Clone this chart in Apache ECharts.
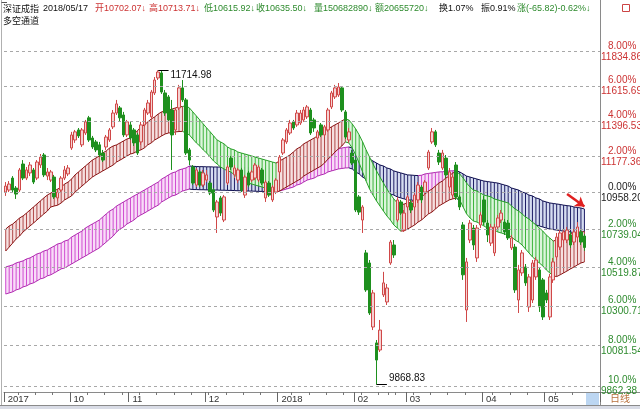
<!DOCTYPE html>
<html><head><meta charset="utf-8">
<script src="https://cdn.jsdelivr.net/npm/echarts@6.0.0/dist/echarts.min.js"></script>
<style>html,body{margin:0;padding:0;background:#fff}#c{width:640px;height:409px}</style>
</head><body><div id="c"></div><script>
// ---- trading days ----
const monthKeys = ['2017-09','2017-10','2017-11','2017-12','2018-01','2018-02','2018-03','2018-04','2018-05'];
const sep2017 = [5,6,7,8,11,12,13,14,15,18,19,20,21,22,25,26,27,28,29];
const oct2017 = [9,10,11,12,13,16,17,18,19,20,23,24,25,26,27,30,31];
const nov2017 = [1,2,3,6,7,8,9,10,13,14,15,16,17,20,21,22,23,24,27,28,29,30];
const dec2017 = [1,4,5,6,7,8,11,12,13,14,15,18,19,20,21,22,25,26,27,28,29];
const jan2018 = [2,3,4,5,8,9,10,11,12,15,16,17,18,19,22,23,24,25,26,29,30,31];
const feb2018 = [1,2,5,6,7,8,9,12,13,14,22,23,26,27,28];
const mar2018 = [1,2,5,6,7,8,9,12,13,14,15,16,19,20,21,22,23,26,27,28,29,30];
const apr2018 = [2,3,4,9,10,11,12,13,16,17,18,19,20,23,24,25,26,27];
const may2018 = [2,3,4,7,8,9,10,11,14,15,16,17];
const monthDays = [sep2017,oct2017,nov2017,dec2017,jan2018,feb2018,mar2018,apr2018,may2018];

// ---- candles ----
const opens = [10962,10974,11046,10986,10974,11131,11046,11077,11095,11046,
11125,11186,11058,11034,11052,10927,10974,11046,11071,11229,
11278,11340,11248,11321,11415,11290,11266,11248,11198,11235,
11278,11359,11445,11477,11433,11309,11371,11340,11309,11266,
11371,11445,11421,11571,11666,11698,11571,11546,11464,11340,
11477,11603,11527,11217,11113,11004,11083,11004,11034,11016,
10974,10814,10927,10796,11016,11167,11065,11034,11095,10944,
11077,11034,11046,11034,11095,10927,11016,10915,10962,11083,
11198,11266,11321,11390,11371,11383,11402,11421,11464,11402,
11290,11371,11309,11340,11483,11546,11558,11603,11452,11278,
11198,11155,10933,10796,10604,10546,10184,10096,10057,10364,
10324,10546,10650,10796,10903,10737,10873,10897,10873,10915,
10992,10962,11107,11266,11328,11198,11107,11167,10992,10944,
11125,10933,10767,10279,10679,10749,10575,10767,10915,10778,
10661,10604,10755,10796,10784,10778,10633,10638,10335,10489,
10523,10296,10335,10466,10506,10449,10375,10240,10449,10581,
10638,10679,10679,10708,10667,10696,10726,10702.07];
const closes = [10998,11010,10974,10950,11095,11046,11095,11125,11022,11143,
11173,11065,11083,11083,10933,10962,11046,11095,11107,11309,
11328,11303,11340,11390,11278,11235,11217,11186,11155,11296,
11340,11445,11502,11415,11309,11390,11290,11260,11198,11371,
11464,11508,11577,11653,11704,11577,11445,11402,11309,11464,
11603,11527,11198,11155,11016,11095,11004,11077,11065,10956,
10855,10903,10837,10933,11113,11113,11107,11095,10974,11052,
11004,11083,11125,11113,11016,11022,10944,10992,11034,11173,
11278,11340,11383,11352,11445,11445,11464,11483,11321,11352,
11328,11309,11359,11464,11571,11603,11609,11464,11296,11328,
11137,10855,10843,10873,10392,10262,10375,10002,10167,10432,
10403,10667,10592,10915,10837,10837,10933,10855,10944,11004,
10915,11022,11204,11328,11248,11143,11198,11065,11083,11052,
10933,10873,10478,10552,10778,10650,10749,10826,10784,10708,
10755,10755,10808,10837,10726,10691,10691,10392,10506,10604,
10432,10466,10546,10563,10296,10240,10335,10466,10552,10696,
10720,10726,10737,10650,10726,10755,10667,10635.50];
const lows = [10939,10962,10962,10921,10962,11034,11034,11058,11010,11034,
11107,11052,11034,11022,10921,10909,10962,11034,11058,11217,
11260,11290,11235,11309,11266,11223,11204,11173,11143,11217,
11266,11346,11433,11390,11296,11296,11278,11241,11186,11248,
11359,11433,11408,11558,11653,11565,11427,11390,11095,11309,
11464,11514,11186,11125,11004,10992,10992,10992,11022,10944,
10843,10720,10820,10784,11004,11095,11046,11016,10962,10927,
10992,11022,11034,11022,11004,10903,10933,10903,10950,11071,
11186,11254,11309,11340,11359,11371,11390,11408,11309,11328,
11278,11296,11296,11328,11470,11533,11546,11452,11284,11260,
11125,10843,10826,10720,10381,10251,10167,9868.83,10046,10352,
10307,10535,10575,10784,10826,10726,10855,10837,10855,10897,
10897,10944,11095,11254,11235,11125,11095,11046,10974,10927,
10915,10855,10449,10212,10661,10621,10552,10749,10767,10667,
10644,10586,10737,10778,10708,10679,10621,10375,10262,10472,
10415,10268,10318,10449,10268,10223,10318,10223,10432,10563,
10621,10661,10661,10633,10650,10679,10650,10615.92];
const highs = [11022,11028,11058,10998,11107,11155,11113,11143,11107,11155,
11192,11198,11107,11095,11065,10974,11058,11119,11125,11328,
11340,11352,11352,11402,11427,11303,11278,11266,11217,11309,
11352,11464,11527,11489,11452,11402,11390,11352,11321,11390,
11477,11527,11590,11672,11714.98,11711,11590,11558,11527,11477,
11622,11653,11539,11229,11125,11107,11095,11095,11095,11028,
10986,10915,10939,10944,11125,11180,11125,11107,11107,11065,
11089,11095,11137,11125,11107,11034,11028,11004,11046,11186,
11290,11352,11402,11402,11464,11464,11483,11495,11477,11415,
11340,11383,11371,11477,11584,11622,11634,11615,11464,11352,
11217,11167,10944,10884,10621,10563,10392,10112,10223,10495,
10426,10679,10679,10933,10915,10855,10944,10915,10956,11022,
11004,11034,11217,11352,11340,11217,11217,11186,11107,11065,
11143,10944,10784,10575,10796,10767,10767,10843,10939,10796,
10773,10773,10826,10855,10802,10796,10708,10656,10535,10621,
10540,10483,10563,10581,10523,10460,10392,10483,10575,10720,
10737,10743,10755,10726,10743,10784,10743,10713.71];

// ---- 多空通道 bands ----
const fastUpper = [10743,10761,10772,10790,10808,10820,10837,10855,10873,10891,
10909,10927,10944,10956,10968,10980,10992,11010,11022,11040,
11065,11083,11101,11119,11137,11155,11167,11180,11198,11211,
11229,11241,11248,11260,11272,11284,11290,11315,11334,11359,
11371,11390,11408,11421,11439,11452,11458,11464,11470,11477,
11483,11486,11490,11477,11452,11427,11402,11377,11352,11328,
11303,11278,11266,11254,11235,11223,11217,11204,11198,11192,
11186,11180,11173,11167,11161,11155,11149,11143,11137,11149,
11161,11173,11186,11204,11223,11235,11254,11266,11278,11290,
11303,11315,11334,11346,11359,11371,11383,11396,11408,11402,
11377,11346,11309,11266,11217,11173,11131,11089,11052,11016,
10980,10950,10921,10897,10884,10891,10897,10903,10915,10921,
10933,10950,10968,10980,10998,11016,11028,11046,11058,11077,
11083,11071,11046,11016,10992,10974,10968,10956,10944,10939,
10933,10921,10915,10909,10903,10897,10879,10861,10849,10832,
10814,10802,10784,10767,10749,10731,10708,10691,10673,10679,
10691,10702,10708,10714,10720,10722,10726,10728];
const fastLower = [10615,10638,10661,10685,10702,10726,10743,10761,10778,10796,
10814,10832,10849,10873,10879,10884,10897,10915,10927,10939,
10962,10980,10998,11016,11034,11052,11065,11077,11089,11101,
11113,11125,11143,11155,11167,11180,11192,11198,11211,11217,
11229,11248,11260,11278,11290,11303,11315,11321,11323,11328,
11330,11331,11321,11309,11284,11260,11241,11217,11198,11173,
11149,11131,11113,11101,11089,11083,11065,11046,11034,11028,
11016,11010,11004,10998,10992,10986,10980,10968,10962,10968,
10980,10992,11004,11016,11028,11040,11058,11071,11083,11095,
11107,11119,11137,11161,11180,11204,11223,11241,11266,11260,
11229,11186,11137,11083,11028,10980,10944,10909,10879,10849,
10820,10796,10767,10749,10731,10733,10743,10755,10767,10784,
10796,10814,10832,10843,10861,10879,10891,10903,10915,10921,
10927,10915,10873,10832,10808,10790,10784,10773,10761,10749,
10743,10737,10726,10720,10714,10708,10696,10679,10667,10650,
10627,10604,10581,10563,10546,10529,10506,10489,10472,10468,
10478,10489,10500,10512,10523,10535,10546,10552];
const slowUpper = [10523,10529,10535,10546,10552,10558,10569,10575,10586,10598,
10604,10615,10621,10633,10644,10656,10661,10673,10679,10696,
10708,10720,10731,10749,10761,10773,10784,10796,10814,10832,
10849,10861,10879,10891,10903,10915,10927,10939,10950,10962,
10974,10986,10998,11010,11022,11040,11052,11065,11077,11083,
11095,11101,11107,11119,11117,11116,11115,11115,11114,11114,
11113,11113,11112,11112,11111,11111,11110,11110,11109,11109,
11108,11108,11107,11107,11106,11106,11105,11105,11104,11113,
11119,11125,11131,11137,11143,11149,11155,11167,11173,11180,
11186,11187,11192,11198,11211,11217,11223,11229,11232,11235,
11229,11217,11204,11186,11173,11161,11149,11137,11125,11119,
11107,11101,11089,11083,11077,11071,11065,11064,11062,11061,
11063,11071,11074,11077,11080,11083,11084,11086,11089,11090,
11091,11083,11071,11058,11052,11046,11040,11034,11028,11025,
11022,11019,11016,11010,11004,10998,10986,10980,10974,10962,
10956,10944,10939,10927,10921,10909,10903,10897,10894,10891,
10888,10884,10881,10879,10873,10870,10867,10861];
const slowLower = [10369,10375,10381,10392,10398,10409,10415,10426,10432,10443,
10455,10460,10472,10478,10489,10500,10512,10517,10529,10540,
10552,10563,10575,10586,10598,10610,10621,10633,10650,10667,
10685,10702,10726,10743,10755,10773,10784,10796,10814,10826,
10837,10849,10861,10873,10884,10903,10915,10927,10939,10944,
10956,10968,10974,10980,10977,10977,10976,10976,10975,10975,
10974,10974,10973,10973,10972,10972,10971,10970,10970,10969,
10968,10968,10967,10966,10966,10965,10964,10963,10962,10968,
10974,10980,10986,10992,11004,11010,11022,11034,11040,11046,
11058,11065,11071,11083,11089,11095,11101,11104,11107,11108,
11101,11083,11071,11052,11040,11022,11010,10992,10980,10968,
10962,10950,10944,10933,10927,10921,10915,10914,10912,10911,
10913,10915,10918,10919,10921,10922,10923,10924,10925,10926,
10927,10909,10903,10897,10891,10888,10884,10881,10879,10873,
10867,10861,10858,10855,10849,10843,10832,10826,10814,10808,
10796,10784,10778,10767,10761,10755,10749,10743,10740,10737,
10734,10731,10728,10726,10720,10714,10711,10708];

// ---- right axis ticks ----
const levelPrices = [11834.86,11615.69,11396.53,11177.36,10958.20,10739.04,10519.87,10300.71,10081.54,9862.38];
const levelPercents = ['8.00%','6.00%','4.00%','2.00%','0.00%','2.00%','4.00%','6.00%','8.00%','10.0%'];
const lastClose = 10635.50;
const highMark = {index: 44, value: 11714.98};
const lowMark = {index: 107, value: 9868.83};
const padSlots = 4;

// ---- build ----
const dates = [];
monthKeys.forEach((k, m) => monthDays[m].forEach(d => dates.push(k + '-' + String(d).padStart(2, '0'))));
const cats = dates.concat(Array.from({length: padSlots}, (_, j) => 'pad' + j));
const isMonthStart = i => i < dates.length && (i === 0 || dates[i].slice(0, 7) !== dates[i - 1].slice(0, 7));
const dayMs = s => Date.parse(s + 'T00:00:00Z');
const isWeekStart = i => i < dates.length && i > 0 &&
  (new Date(dayMs(dates[i])).getUTCDay() < new Date(dayMs(dates[i - 1])).getUTCDay() || dayMs(dates[i]) - dayMs(dates[i - 1]) >= 7 * 864e5);

const RED = '#cc3333', GREEN = '#2e8b2e';
const FONT = 'Liberation Sans, Arial, Noto Sans CJK SC, sans-serif';
const HF = '9px ' + FONT;

function bandSeries(name, upper, lower, colors, z) {
  const data = upper.map((u, i) => [i, u, lower[i], i > 0 ? upper[i - 1] : u, i > 0 ? lower[i - 1] : lower[i], i === 0 ? 1 : 0]);
  return {
    type: 'custom', name, z, silent: true, clip: true,
    encode: {x: 0, y: [1, 2]},
    renderItem(params, api) {
      const i = api.value(0), u = api.value(1), l = api.value(2), pu = api.value(3), pl = api.value(4), first = api.value(5);
      const rising = first === 1 || (u + l) > (pu + pl);
      const c = rising ? colors.up : colors.down;
      const t = api.coord([i, u]), b = api.coord([i, l]);
      const ch = [];
      if (!first) {
        const pt = api.coord([i - 1, pu]), pb = api.coord([i - 1, pl]);
        ch.push({type: 'polygon', z2: 0, shape: {points: [pt, t, b, pb]}, style: {fill: c.fill}});
        ch.push({type: 'line', z2: 2, shape: {x1: pt[0], y1: pt[1], x2: t[0], y2: t[1]}, style: {stroke: c.edge, lineWidth: 1}});
        ch.push({type: 'line', z2: 2, shape: {x1: pb[0], y1: pb[1], x2: b[0], y2: b[1]}, style: {stroke: c.edge, lineWidth: 1}});
      }
      ch.push({type: 'line', z2: 1, shape: {x1: t[0], y1: t[1], x2: b[0], y2: b[1]}, style: {stroke: c.hatch, lineWidth: 1}});
      return {type: 'group', children: ch};
    },
    data
  };
}

const candleData = opens.map((o, i) => [o, closes[i], lows[i], highs[i]]);

const levelLines = levelPrices.map((p, k) => {
  const col = k < 4 ? RED : (k === 4 ? '#222' : GREEN);
  return {
    yAxis: p,
    label: {
      formatter: '{p|' + levelPercents[k] + '}\n{v|' + p.toFixed(2) + '}',
      rich: {p: {color: col, fontSize: 10, fontFamily: FONT, lineHeight: 11, padding: [0, 0, 0, 7]},
             v: {color: col, fontSize: 10, fontFamily: FONT, lineHeight: 11}}
    }
  };
});
levelLines.push({
  yAxis: lastClose, lineStyle: {opacity: 0},
  label: {formatter: String(Math.round(lastClose)), color: RED, fontSize: 10, fontFamily: FONT,
          backgroundColor: '#ebebeb', padding: [1, 6, 0, 7]}
});

const chart = echarts.init(document.getElementById('c'), null, {renderer: 'canvas'});
const option = {
  animation: false,
  backgroundColor: '#fff',
  grid: {left: 4, right: 40, top: 28, bottom: 17, containLabel: false},
  xAxis: [{
    type: 'category', data: cats, boundaryGap: true,
    axisLine: {show: true, lineStyle: {color: '#8a8a8a', width: 1}},
    axisTick: {show: true, interval: (i) => isWeekStart(i), length: 3, lineStyle: {color: '#777'}},
    axisLabel: {show: true, interval: (i) => isMonthStart(i), align: 'left', margin: 3,
      padding: [0, 0, 0, 2], color: '#333', fontSize: 9.5, fontFamily: FONT,
      formatter: (v) => {
        const idx = cats.indexOf(v);
        if (idx === 0) return v.slice(0, 4);
        return v.slice(5, 7) === '01' ? v.slice(0, 4) : v.slice(5, 7);
      }},
    splitLine: {show: false}
  }, {
    type: 'category', data: cats, boundaryGap: true, position: 'bottom', gridIndex: 0,
    axisLine: {show: false},
    axisTick: {show: true, interval: (i) => isMonthStart(i), length: 10, lineStyle: {color: '#666'}},
    axisLabel: {show: false}, splitLine: {show: false}
  }],
  yAxis: {
    type: 'log', logBase: 10, min: 9829.1, max: 11988.5, position: 'right',
    axisLine: {show: false}, axisTick: {show: false}, axisLabel: {show: false}, splitLine: {show: false}
  },
  series: [
    bandSeries('slow', slowUpper, slowLower, {
      up: {hatch: '#d04cd0', edge: '#b02cb0', fill: '#f8dcf8'},
      down: {hatch: '#1c1c64', edge: '#101050', fill: '#d6ddf1'}
    }, 1),
    bandSeries('fast', fastUpper, fastLower, {
      up: {hatch: '#b04848', edge: '#8a1414', fill: '#f6e0e0'},
      down: {hatch: '#3cb43c', edge: '#28a028', fill: '#dcf5dc'}
    }, 2),
    {
      type: 'candlestick', name: '深证成指', z: 3, barWidth: 3, data: candleData,
      itemStyle: {color: '#f5d2d2', color0: '#1e901e', borderColor: '#d04848', borderColor0: '#1e901e', borderWidth: 1},
      markLine: {
        silent: true, symbol: ['none', 'none'], animation: false,
        lineStyle: {type: [3, 3], color: '#a8a8a8', width: 1},
        label: {show: true, position: 'end', distance: 1},
        data: levelLines.concat([
          [{coord: [highMark.index, highMark.value], lineStyle: {type: 'solid', color: '#000'}, label: {show: false}},
           {coord: [highMark.index + 3, highMark.value]}],
          [{coord: [lowMark.index, lowMark.value], lineStyle: {type: 'solid', color: '#000'}, label: {show: false}},
           {coord: [lowMark.index + 3, lowMark.value]}],
          [{coord: [162, 10950], lineStyle: {type: 'solid', color: '#e02020', width: 2.5}, label: {show: false}, symbol: 'none'},
           {coord: [167, 10876], symbol: 'arrow', symbolSize: 9}]
        ])
      },
      markPoint: {
        silent: true, symbol: 'circle', symbolSize: 0,
        data: [
          {coord: [highMark.index + 3, highMark.value], label: {show: true, position: 'right', distance: 2, offset: [0, 5],
            formatter: highMark.value.toFixed(2), color: '#111', fontSize: 10, fontFamily: FONT}},
          {coord: [lowMark.index + 3, lowMark.value], label: {show: true, position: 'right', distance: 2, offset: [0, -6],
            formatter: lowMark.value.toFixed(2), color: '#111', fontSize: 10, fontFamily: FONT}}
        ]
      }
    }
  ],
  graphic: [
    {type: 'line', shape: {x1: 600.5, y1: 0, x2: 600.5, y2: 405}, style: {stroke: '#8a8a8a', lineWidth: 1}, silent: true},
    {type: 'line', shape: {x1: 1.5, y1: 0, x2: 1.5, y2: 405}, style: {stroke: '#b0b0b0', lineWidth: 1}, silent: true},
    {type: 'line', shape: {x1: 1.5, y1: 2.5, x2: 7, y2: 2.5}, style: {stroke: '#555', lineWidth: 1}, silent: true},
    {type: 'line', shape: {x1: 0, y1: 405.5, x2: 640, y2: 405.5}, style: {stroke: '#8a8a8a', lineWidth: 1}, silent: true},
    {type: 'rect', shape: {x: 0, y: 406, width: 640, height: 3}, style: {fill: '#d9dce6'}, silent: true},
    {type: 'line', shape: {x1: 600, y1: 392.5, x2: 640, y2: 392.5}, style: {stroke: '#8a8a8a', lineWidth: 1}, silent: true},
    {type: 'rect', shape: {x: 586, y: 393, width: 13, height: 12}, style: {fill: '#bcd6f2'}, silent: true},
    {type: 'text', x: 610, y: 393, style: {text: '日线', fill: '#b8703c', font: '10px Noto Sans CJK SC'}, silent: true},
    {type: 'rect', shape: {x: 622.5, y: 4.5, width: 7, height: 7}, style: {fill: 'none', stroke: '#cc4444', lineWidth: 1}, silent: true},
    {type: 'text', x: 3, y: 4, style: {text: '深证成指', fill: '#111', font: '9px Noto Sans CJK SC'}, silent: true},
    {type: 'text', x: 43, y: 4, style: {text: '2018/05/17', fill: '#111', font: HF}, silent: true},
    {type: 'text', x: 95, y: 4, style: {text: '开10702.07↓', fill: RED, font: HF}, silent: true},
    {type: 'text', x: 149, y: 4, style: {text: '高10713.71↓', fill: RED, font: HF}, silent: true},
    {type: 'text', x: 204, y: 4, style: {text: '低10615.92↓', fill: GREEN, font: HF}, silent: true},
    {type: 'text', x: 256, y: 4, style: {text: '收10635.50↓', fill: GREEN, font: HF}, silent: true},
    {type: 'text', x: 314, y: 4, style: {text: '量150682890↓', fill: GREEN, font: HF}, silent: true},
    {type: 'text', x: 375, y: 4, style: {text: '额20655720↓', fill: GREEN, font: HF}, silent: true},
    {type: 'text', x: 439, y: 4, style: {text: '换1.07%', fill: '#111', font: HF}, silent: true},
    {type: 'text', x: 481, y: 4, style: {text: '振0.91%', fill: '#111', font: HF}, silent: true},
    {type: 'text', x: 517, y: 4, style: {text: '涨(-65.82)-0.62%↓', fill: GREEN, font: HF}, silent: true},
    {type: 'text', x: 3, y: 16, style: {text: '多空通道', fill: '#111', font: '9px Noto Sans CJK SC'}, silent: true}
  ]
};
chart.setOption(option);
</script></body></html>
